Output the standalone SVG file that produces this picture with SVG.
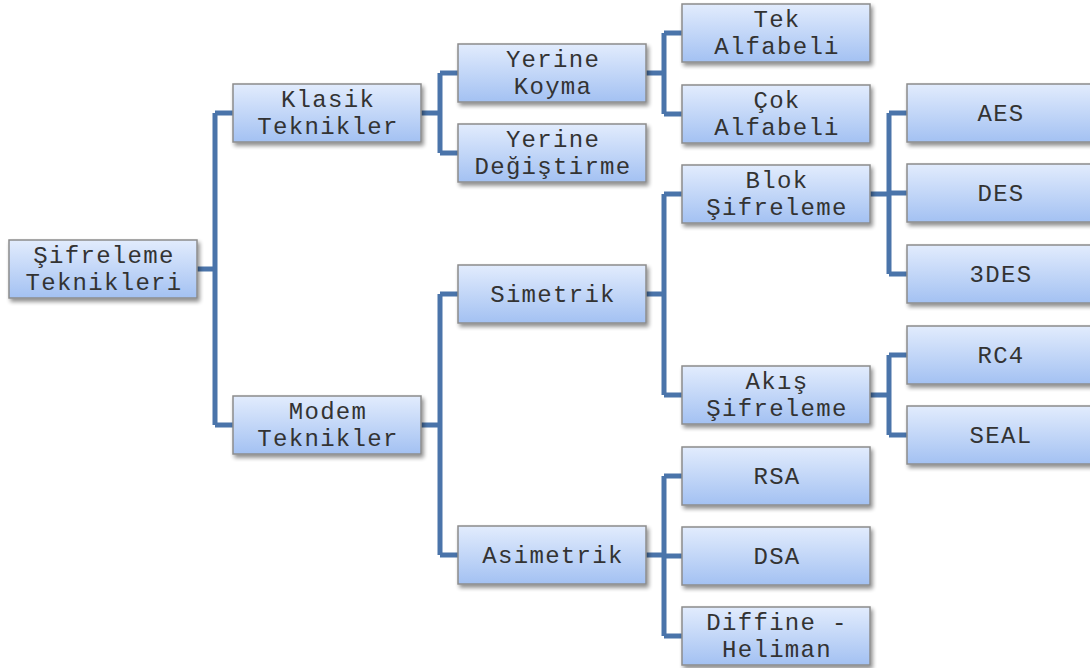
<svg xmlns="http://www.w3.org/2000/svg" width="1090" height="668" viewBox="0 0 1090 668">
<defs>
<linearGradient id="g" x1="0" y1="0" x2="0" y2="1">
<stop offset="0" stop-color="#e2ecfd"/>
<stop offset="1" stop-color="#a3c1f2"/>
</linearGradient>
<filter id="sh" x="-10%" y="-20%" width="125%" height="160%">
<feGaussianBlur in="SourceAlpha" stdDeviation="2"/>
<feOffset dx="2" dy="3"/>
<feComponentTransfer><feFuncA type="linear" slope="0.45"/></feComponentTransfer>
<feMerge><feMergeNode/><feMergeNode in="SourceGraphic"/></feMerge>
</filter>
</defs>
<style>
.box{fill:url(#g);stroke:#8c8c8c;stroke-width:1.5;filter:url(#sh)}
.t{font-family:"Liberation Mono","Courier New",monospace;font-size:24px;fill:#333333;text-anchor:middle;letter-spacing:1.3px}
.c{fill:none;stroke:#4a74aa;stroke-width:5;stroke-linejoin:round}
</style>
<rect width="1090" height="668" fill="#ffffff"/>
<g id="connectors">
<path class="c" d="M197 269H215M215 113V425M215 113H233M215 425H233"/>
<path class="c" d="M421 113H440M440 73V153M440 73H458M440 153H458"/>
<path class="c" d="M421 425H440M440 294V555M440 294H458M440 555H458"/>
<path class="c" d="M646 73H664M664 33V114M664 33H682M664 114H682"/>
<path class="c" d="M646 294H664M664 194V395M664 194H682M664 395H682"/>
<path class="c" d="M646 555H664M664 476V636M664 476H682M664 556H682M664 636H682"/>
<path class="c" d="M870 194H889M889 113V274M889 113H907M889 193H907M889 274H907"/>
<path class="c" d="M870 395H889M889 355V435M889 355H907M889 435H907"/>
</g>
<g id="n-sifreleme"><rect class="box" x="9" y="240" width="188" height="58"/><text class="t" x="104" y="263">Şifreleme</text><text class="t" x="104" y="290">Teknikleri</text></g>
<g id="n-klasik"><rect class="box" x="233" y="84" width="188" height="58"/><text class="t" x="328" y="107">Klasik</text><text class="t" x="328" y="134">Teknikler</text></g>
<g id="n-modem"><rect class="box" x="233" y="396" width="188" height="58"/><text class="t" x="328" y="419">Modem</text><text class="t" x="328" y="446">Teknikler</text></g>
<g id="n-yerinekoyma"><rect class="box" x="458" y="44" width="188" height="58"/><text class="t" x="553" y="67">Yerine</text><text class="t" x="553" y="94">Koyma</text></g>
<g id="n-yerinedegistirme"><rect class="box" x="458" y="124" width="188" height="58"/><text class="t" x="553" y="147">Yerine</text><text class="t" x="553" y="174">Değiştirme</text></g>
<g id="n-simetrik"><rect class="box" x="458" y="265" width="188" height="58"/><text class="t" x="553" y="302">Simetrik</text></g>
<g id="n-asimetrik"><rect class="box" x="458" y="526" width="188" height="58"/><text class="t" x="553" y="563">Asimetrik</text></g>
<g id="n-tek"><rect class="box" x="682" y="4" width="188" height="58"/><text class="t" x="777" y="27">Tek</text><text class="t" x="777" y="54">Alfabeli</text></g>
<g id="n-cok"><rect class="box" x="682" y="85" width="188" height="58"/><text class="t" x="777" y="108">Çok</text><text class="t" x="777" y="135">Alfabeli</text></g>
<g id="n-blok"><rect class="box" x="682" y="165" width="188" height="58"/><text class="t" x="777" y="188">Blok</text><text class="t" x="777" y="215">Şifreleme</text></g>
<g id="n-akis"><rect class="box" x="682" y="366" width="188" height="58"/><text class="t" x="777" y="389">Akış</text><text class="t" x="777" y="416">Şifreleme</text></g>
<g id="n-rsa"><rect class="box" x="682" y="447" width="188" height="58"/><text class="t" x="777" y="484">RSA</text></g>
<g id="n-dsa"><rect class="box" x="682" y="527" width="188" height="58"/><text class="t" x="777" y="564">DSA</text></g>
<g id="n-diffine"><rect class="box" x="682" y="607" width="188" height="58"/><text class="t" x="777" y="630">Diffine -</text><text class="t" x="777" y="657">Heliman</text></g>
<g id="n-aes"><rect class="box" x="907" y="84" width="188" height="58"/><text class="t" x="1001" y="121">AES</text></g>
<g id="n-des"><rect class="box" x="907" y="164" width="188" height="58"/><text class="t" x="1001" y="201">DES</text></g>
<g id="n-3des"><rect class="box" x="907" y="245" width="188" height="58"/><text class="t" x="1001" y="282">3DES</text></g>
<g id="n-rc4"><rect class="box" x="907" y="326" width="188" height="58"/><text class="t" x="1001" y="363">RC4</text></g>
<g id="n-seal"><rect class="box" x="907" y="406" width="188" height="58"/><text class="t" x="1001" y="443">SEAL</text></g>
</svg>
